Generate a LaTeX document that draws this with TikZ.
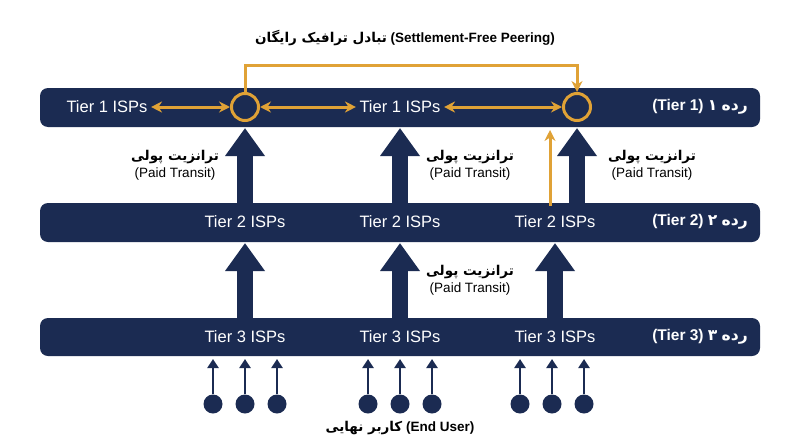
\documentclass[tikz,border=0pt]{standalone}
\usepackage{fontspec}
\setmainfont{Liberation Sans}
\newfontfamily\fa[Script=Arabic]{DejaVu Sans}
\usetikzlibrary{arrows.meta}
\definecolor{navy}{HTML}{1B2B52}
\definecolor{gold}{HTML}{E0A236}
\newcommand{\fr}[1]{{\fa\beginR #1\endR}}
\begin{document}
\TeXXeTstate=1
\begin{tikzpicture}[x=1pt,y=-1pt,
 bar/.style={fill=navy,rounded corners=8pt},
 isp/.style={text=white,font=\fontsize{16.5}{19}\selectfont},
 tier/.style={text=white,font=\bfseries\fontsize{15.5}{18}\selectfont},
 lab/.style={text=black,align=center,font=\fontsize{13.5}{17}\selectfont},
 big/.style={navy,line width=16pt,-{Triangle[width=38pt,length=28pt]}},
 gold2/.style={gold,line width=3pt,{Stealth[length=11pt,width=11pt]}-{Stealth[length=11pt,width=11pt]}},
 gold1/.style={gold,line width=3pt,-{Stealth[length=11pt,width=11pt]}},
 ring/.style={circle,draw=gold,line width=3pt,minimum size=27pt,inner sep=0},
 user/.style={circle,fill=navy,minimum size=19pt,inner sep=0},
 thin/.style={navy,line width=2.5pt,-{Triangle[length=9pt,width=11pt]}}]
\useasboundingbox (0,0) rectangle (800,447);
\fill[bar] (40,88) rectangle (760,127);
\fill[bar] (40,203) rectangle (760,242);
\fill[bar] (40,318) rectangle (760,356);
% tier 1
\node[isp] (a1) at (107,107) {Tier 1 ISPs};
\node[ring] (c1) at (245,107) {};
\node[isp] (a2) at (400,107) {Tier 1 ISPs};
\node[ring] (c2) at (577,107) {};
\node[tier] (r1) at (700,107) {(Tier 1) {\fa ۱} \fr{رده}};
\draw[gold2] (a1) -- (c1);
\draw[gold2] (c1) -- (a2);
\draw[gold2] (a2) -- (c2);
\draw[gold1] (c1.north) -- (245,65) -| (c2.north);
\node[font=\bfseries\fontsize{13.5}{16}\selectfont] (peer) at (405,38) {\fr{تبادل ترافیک رایگان} (Settlement-Free Peering)};
% tier 2
\node[isp] (b1) at (245,222) {Tier 2 ISPs};
\node[isp] (b2) at (400,222) {Tier 2 ISPs};
\node[isp] (b3) at (555,222) {Tier 2 ISPs};
\node[tier] (r2) at (700,222) {(Tier 2) {\fa ۲} \fr{رده}};
\coordinate (u1) at (245,128); \coordinate (u2) at (400,128); \coordinate (u3) at (577,128);
\coordinate (d1) at (245,206); \coordinate (d2) at (400,206); \coordinate (d3) at (577,206);
\draw[big] (d1) -- (u1); \draw[big] (d2) -- (u2); \draw[big] (d3) -- (u3);
\coordinate (g0) at (550,206); \coordinate (g1) at (550,130);
\draw[gold1] (g0) -- (g1);
\node[lab] (l1) at (175,165) {\textbf{\fr{ترانزیت پولی}}\\(Paid Transit)};
\node[lab] (l2) at (470,165) {\textbf{\fr{ترانزیت پولی}}\\(Paid Transit)};
\node[lab] (l3) at (652,165) {\textbf{\fr{ترانزیت پولی}}\\(Paid Transit)};
% tier 3
\node[isp] (s1) at (245,337) {Tier 3 ISPs};
\node[isp] (s2) at (400,337) {Tier 3 ISPs};
\node[isp] (s3) at (555,337) {Tier 3 ISPs};
\node[tier] (r3) at (700,337) {(Tier 3) {\fa ۳} \fr{رده}};
\coordinate (v1) at (245,243); \coordinate (v2) at (400,243); \coordinate (v3) at (555,243);
\coordinate (e1) at (245,321); \coordinate (e2) at (400,321); \coordinate (e3) at (555,321);
\draw[big] (e1) -- (v1); \draw[big] (e2) -- (v2); \draw[big] (e3) -- (v3);
\node[lab] (l4) at (470,280) {\textbf{\fr{ترانزیت پولی}}\\(Paid Transit)};
% users
\foreach \x [count=\i] in {213,245,277,368,400,432,520,552,584}{
  \node[user] (n\i) at (\x,404) {};
  \coordinate (m\i) at (\x,359);
  \draw[thin] (n\i) -- (m\i);
}
\node[font=\bfseries\fontsize{13.5}{16}\selectfont] (eu) at (400,428) {\fr{کاربر نهایی} (End User)};
\end{tikzpicture}
\end{document}
